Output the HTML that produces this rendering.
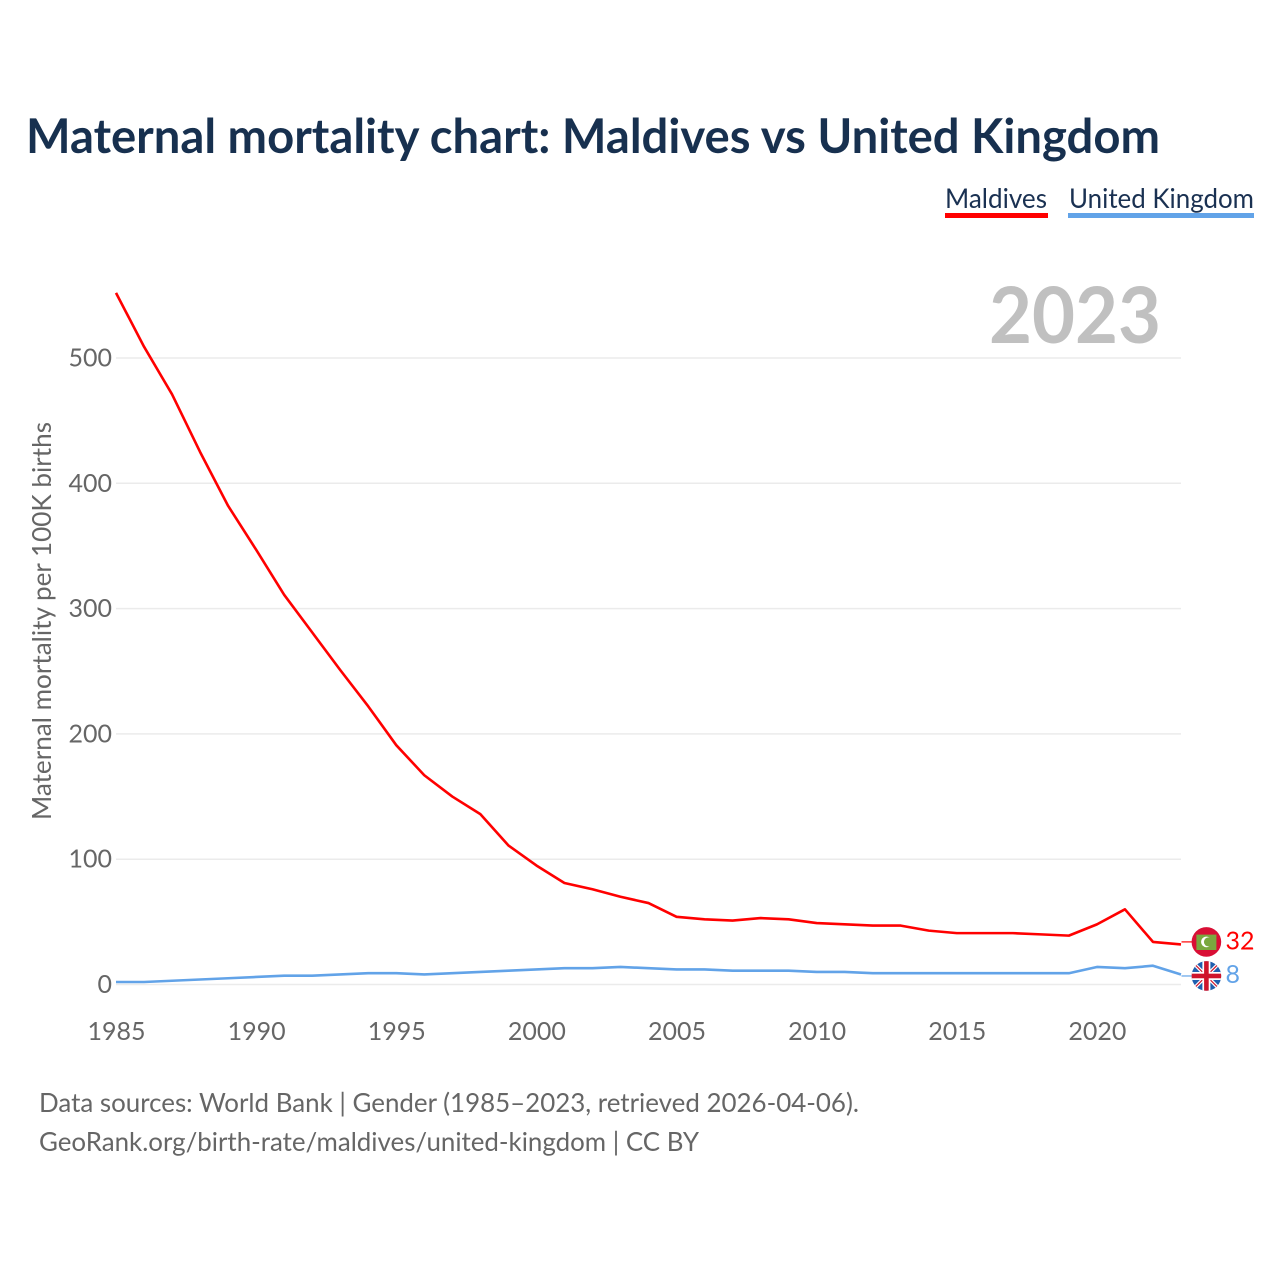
<!DOCTYPE html>
<html lang="en">
<head>
<meta charset="utf-8">
<title>Maternal mortality chart: Maldives vs United Kingdom</title>
<style>
html,body{margin:0;padding:0;background:#fff;width:1280px;height:1280px;overflow:hidden}
svg{display:block}
text{font-family:"Lato","Carlito","Liberation Sans",sans-serif}
</style>
</head>
<body>
<svg id="chart" xmlns="http://www.w3.org/2000/svg" width="1280" height="1280" viewBox="0 0 1280 1280">
  <text x="26" y="153" font-size="48" font-weight="700" fill="#17304f" textLength="1134" lengthAdjust="spacingAndGlyphs">Maternal mortality chart: Maldives vs United Kingdom</text>

  <g>
    <text x="945" y="208" font-size="27.5" fill="#1a3152" textLength="102" lengthAdjust="spacingAndGlyphs">Maldives</text>
    <rect x="945" y="213" width="103" height="5" fill="#ff0000"/>
  </g>
  <g>
    <text x="1069" y="208" font-size="27.5" fill="#1a3152" textLength="185" lengthAdjust="spacingAndGlyphs">United Kingdom</text>
    <rect x="1068" y="213" width="186" height="5" fill="#62a3e8"/>
  </g>

  <g id="grid"></g>
  <g id="yticks"></g>
  <g id="xticks"></g>

  <text x="1161" y="343" text-anchor="end" font-size="78" font-weight="700" fill="#c0c0c0" textLength="172" lengthAdjust="spacingAndGlyphs">2023</text>

  <text transform="translate(51,621) rotate(-90)" text-anchor="middle" font-size="26" fill="#666666" textLength="398" lengthAdjust="spacingAndGlyphs">Maternal mortality per 100K births</text>

  <g id="series"></g>

  <g id="end-markers"></g>

  <text x="39" y="1112" font-size="26.5" fill="#666666" textLength="820" lengthAdjust="spacingAndGlyphs">Data sources: World Bank | Gender (1985–2023, retrieved 2026-04-06).</text>
  <text x="39" y="1151" font-size="26.5" fill="#666666" textLength="660" lengthAdjust="spacingAndGlyphs">GeoRank.org/birth-rate/maldives/united-kingdom | CC BY</text>
</svg>

<script>
const years = [1985,1986,1987,1988,1989,1990,1991,1992,1993,1994,1995,1996,1997,1998,1999,2000,2001,2002,2003,2004,2005,2006,2007,2008,2009,2010,2011,2012,2013,2014,2015,2016,2017,2018,2019,2020,2021,2022,2023];
const maldivesValues = [552,509,471,425,382,347,311,281,251,222,191,167,150,136,111,95,81,76,70,65,54,52,51,53,52,49,48,47,47,43,41,41,41,40,39,48,60,34,32];
const ukValues = [2,2,3,4,5,6,7,7,8,9,9,8,9,10,11,12,13,13,14,13,12,12,11,11,11,10,10,9,9,9,9,9,9,9,9,14,13,15,8];
const yTickValues = [0,100,200,300,400,500];
const xTickValues = [1985,1990,1995,2000,2005,2010,2015,2020];

const NS = 'http://www.w3.org/2000/svg';
function xScale(year){ return 116 + (year - 1985) * (1181 - 116) / 38; }
function yScale(v){ return 984.5 - v * (984.5 - 358) / 500; }
function make(tag, attrs, parent){
  const el = document.createElementNS(NS, tag);
  for (const k in attrs) el.setAttribute(k, attrs[k]);
  parent.appendChild(el);
  return el;
}

const gridG = document.getElementById('grid');
const yG = document.getElementById('yticks');
const xG = document.getElementById('xticks');
const seriesG = document.getElementById('series');
const endG = document.getElementById('end-markers');

yTickValues.forEach(function(v){
  const line = make('line', {x1:116, x2:1181, y1:yScale(v), y2:yScale(v), stroke:'#ebebeb', 'stroke-width':1.5}, gridG);
  
  
  const t = make('text', {x:112, y:yScale(v)+8.5, 'text-anchor':'end', 'font-size':25, fill:'#666666'}, yG);
  
  
  t.textContent = v;
});

xTickValues.forEach(function(y){
  const t = make('text', {x:xScale(y)+0.5, y:1040, 'text-anchor':'middle', 'font-size':25, fill:'#666666'}, xG);
  
  
  t.textContent = y;
});

function linePoints(values){
  return values.map(function(v, i){ return xScale(years[i]).toFixed(2) + ',' + yScale(v).toFixed(2); }).join(' ');
}

const ukLine = make('polyline', {points:linePoints(ukValues), fill:'none', stroke:'#62a3e8', 'stroke-width':2.6, 'stroke-linejoin':'round'}, seriesG);



const mvLine = make('polyline', {points:linePoints(maldivesValues), fill:'none', stroke:'#ff0000', 'stroke-width':2.6, 'stroke-linejoin':'round'}, seriesG);



const lastMv = maldivesValues[maldivesValues.length - 1];
const lastUk = ukValues[ukValues.length - 1];
const endX = xScale(years[years.length - 1]);
const flagX = 1206.4;
const mvFlagY = yScale(lastMv) - 2.5;
const ukFlagY = yScale(lastUk) + 1.5;

const mvConn = make('line', {x1:endX+0.5, y1:mvFlagY, x2:flagX-14, y2:mvFlagY, stroke:'#ff0000', 'stroke-width':1.2}, endG);



const ukConn = make('line', {x1:endX+0.5, y1:ukFlagY, x2:flagX-14, y2:ukFlagY, stroke:'#62a3e8', 'stroke-width':1.2}, endG);



/* Maldives flag */
const mvFlag = make('g', {transform:'translate(' + flagX + ',' + mvFlagY + ')'}, endG);


make('circle', {r:14.8, fill:'#d90f35'}, mvFlag);
make('rect', {x:-10, y:-7.3, width:20, height:15.4, fill:'#7aa83f'}, mvFlag);
make('circle', {cx:0, cy:0, r:5.3, fill:'#ffffff'}, mvFlag);
make('circle', {cx:2, cy:0, r:4.5, fill:'#7aa83f'}, mvFlag);

/* UK flag */
const ukFlag = make('g', {transform:'translate(' + flagX + ',' + ukFlagY + ')'}, endG);


const clip = make('clipPath', {id:'uk-clip'}, ukFlag);
make('circle', {r:14.8}, clip);
const ukInner = make('g', {'clip-path':'url(#uk-clip)'}, ukFlag);
make('rect', {x:-16, y:-16, width:32, height:32, fill:'#1f5eae'}, ukInner);
make('line', {x1:-16, y1:-16, x2:16, y2:16, stroke:'#ffffff', 'stroke-width':3.6}, ukInner);
make('line', {x1:16, y1:-16, x2:-16, y2:16, stroke:'#ffffff', 'stroke-width':3.6}, ukInner);
make('line', {x1:-16, y1:-16, x2:16, y2:16, stroke:'#cf142b', 'stroke-width':1.2}, ukInner);
make('line', {x1:16, y1:-16, x2:-16, y2:16, stroke:'#cf142b', 'stroke-width':1.2}, ukInner);
make('rect', {x:-16, y:-4, width:32, height:8, fill:'#ffffff'}, ukInner);
make('rect', {x:-4, y:-16, width:8, height:32, fill:'#ffffff'}, ukInner);
make('rect', {x:-16, y:-2.3, width:32, height:4.6, fill:'#cf142b'}, ukInner);
make('rect', {x:-2.3, y:-16, width:4.6, height:32, fill:'#cf142b'}, ukInner);

const mvLabel = make('text', {x:1225.5, y:mvFlagY+7.5, 'font-size':25, fill:'#ff0000'}, endG);


mvLabel.textContent = lastMv;

const ukLabel = make('text', {x:1225.5, y:ukFlagY+7, 'font-size':25, fill:'#62a3e8'}, endG);


ukLabel.textContent = lastUk;
</script>
</body>
</html>
